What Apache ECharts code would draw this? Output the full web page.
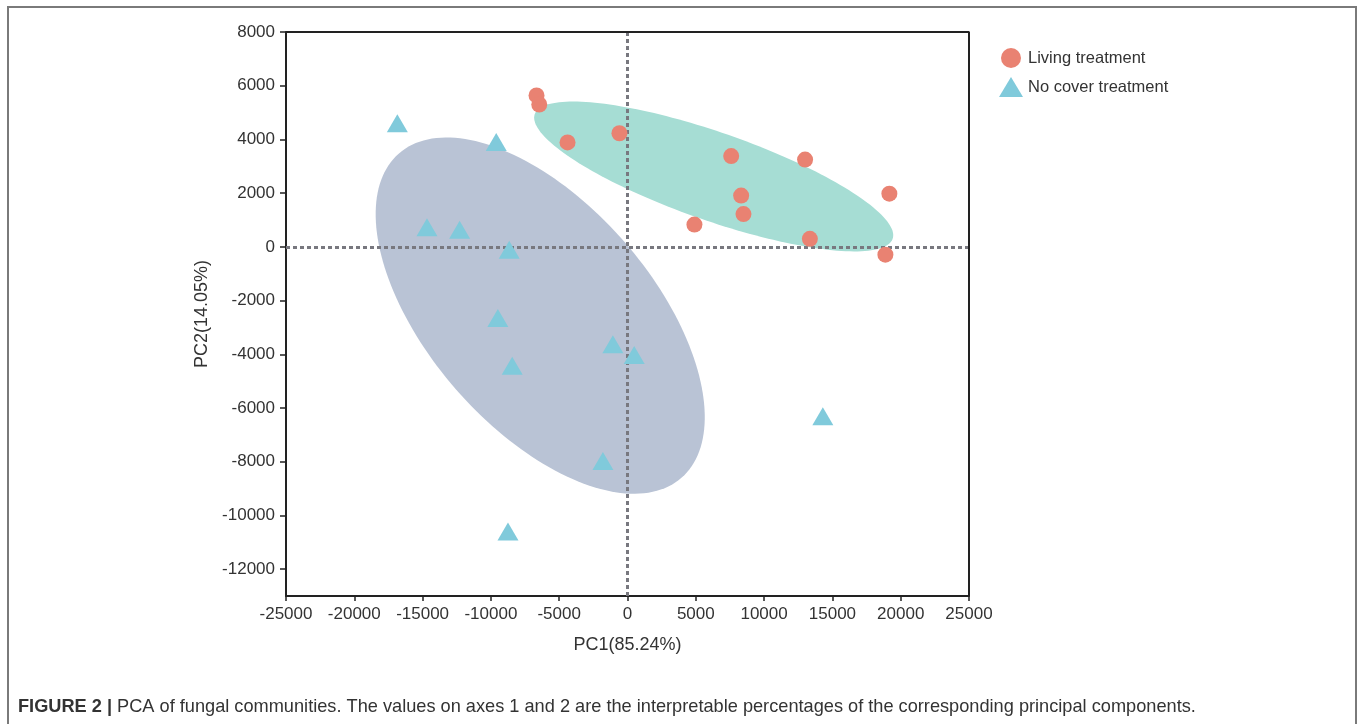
<!DOCTYPE html>
<html>
<head>
<meta charset="utf-8">
<script src="https://cdn.jsdelivr.net/npm/echarts@6/dist/echarts.min.js"></script>
<style>
html,body{margin:0;padding:0;background:#fff;}
#frame{position:absolute;left:7px;top:6px;width:1346px;height:740px;border:2px solid #7a7a7a;border-bottom:none;}
#chart{position:absolute;left:0;top:0;width:1357px;height:724px;}
</style>
</head>
<body>
<div id="frame"></div>
<div id="chart"></div>
<script>
// PC1, PC2 scores
const livingX = [-6660, -6460, -4390, -590, 7590, 13000, 8320, 8490, 4900, 13350, 19170, 18880];
const livingY = [5640, 5300, 3890, 4230, 3380, 3250, 1910, 1220, 830, 300, 1980, -290];
const noCoverX = [-16850, -9610, -14680, -12290, -8660, -9490, -1070, 490, -8440, -1800, -8750, 14300];
const noCoverY = [4600, 3900, 730, 640, -110, -2650, -3630, -4030, -4430, -7970, -10600, -6310];
// ellipses: [centerX, centerY, axis1X, axis1Y, axis2X, axis2Y]
const livingEllipse = [6310, 2620, 13100, -2320, 1060, 1550];
const noCoverEllipse = [-6390, -2560, 10340, -6040, -6180, -2740];
const seriesNames = ['Living treatment', 'No cover treatment'];
const xTicks = [-25000, -20000, -15000, -10000, -5000, 0, 5000, 10000, 15000, 20000, 25000];
const yTicks = [-12000, -10000, -8000, -6000, -4000, -2000, 0, 2000, 4000, 6000, 8000];
const xAxisName = 'PC1(85.24%)';
const yAxisName = 'PC2(14.05%)';
const captionBold = 'FIGURE 2 |';
const captionText = ' PCA of fungal communities. The values on axes 1 and 2 are the interpretable percentages of the corresponding principal components.';

const zip = (xs, ys) => xs.map((x, i) => [x, ys[i]]);
const font = "'Liberation Sans', Arial, Helvetica, sans-serif";

function ellipseRender(params, api) {
  const e = params.dataIndex === 0 ? livingEllipse : noCoverEllipse;
  const pts = [];
  for (let i = 0; i < 180; i++) {
    const t = i / 180 * Math.PI * 2;
    const c = Math.cos(t), s = Math.sin(t);
    pts.push(api.coord([e[0] + c * e[2] + s * e[4], e[1] + c * e[3] + s * e[5]]));
  }
  return {
    type: 'polygon',
    shape: { points: pts },
    style: { fill: params.dataIndex === 0 ? '#a6ddd4' : '#b9c3d5' }
  };
}

const chart = echarts.init(document.getElementById('chart'));
chart.setOption({
  animation: false,
  textStyle: { fontFamily: font },
  grid: { left: 286, right: 388, top: 32, bottom: 128, show: false },
  legend: {
    left: 994, top: 43, orient: 'vertical', itemGap: 9,
    itemWidth: 24, itemHeight: 20,
    textStyle: { fontSize: 16.5, color: '#333', fontFamily: font },
    data: seriesNames
  },
  xAxis: {
    type: 'value', min: -25000, max: 25000, interval: 5000,
    name: xAxisName, nameLocation: 'middle', nameGap: 40,
    nameTextStyle: { fontSize: 18, color: '#333' },
    axisLine: { show: true, onZero: false, lineStyle: { color: '#222', width: 2 } },
    axisTick: { show: true, length: 5, lineStyle: { color: '#222', width: 1.5 }, customValues: xTicks },
    axisLabel: { fontSize: 17, color: '#333', margin: 10, customValues: xTicks,
      formatter: v => String(v) },
    splitLine: { show: false }
  },
  yAxis: {
    type: 'value', min: -13000, max: 8000, interval: 1000,
    name: yAxisName, nameLocation: 'middle', nameGap: 73,
    nameTextStyle: { fontSize: 18, color: '#333' },
    axisLine: { show: true, onZero: false, lineStyle: { color: '#222', width: 2 } },
    axisTick: { show: true, length: 6, lineStyle: { color: '#222', width: 1.5 }, customValues: yTicks },
    axisLabel: { fontSize: 17, color: '#333', margin: 11, customValues: yTicks,
      formatter: v => String(v) },
    splitLine: { show: false }
  },
  graphic: [
    {
      type: 'text', left: 18, top: 698,
      style: {
        text: '{b|' + captionBold + '}{n|' + captionText + '}',
        rich: {
          b: { fontSize: 18.2, fontWeight: 'bold', fill: '#333', fontFamily: font },
          n: { fontSize: 18.2, fill: '#333', fontFamily: font }
        }
      }
    }
  ],
  series: [
    {
      type: 'custom', renderItem: ellipseRender, z: 1, silent: true,
      data: [[livingEllipse[0], livingEllipse[1]], [noCoverEllipse[0], noCoverEllipse[1]]],
      markLine: {
        silent: true, symbol: 'none', label: { show: false },
        lineStyle: { color: '#78787f', width: 3, type: [4, 3] },
        data: [{ xAxis: 0 }, { yAxis: 0 }]
      }
    },
    {
      name: seriesNames[0], type: 'scatter', z: 5,
      symbol: 'circle', symbolSize: 16,
      itemStyle: { color: '#e98272', opacity: 1 },
      data: zip(livingX, livingY)
    },
    {
      name: seriesNames[1], type: 'scatter', z: 5,
      symbol: 'triangle', symbolSize: [21, 18],
      itemStyle: { color: '#80cadb', opacity: 1 },
      data: zip(noCoverX, noCoverY)
    },
    {
      type: 'line', silent: true, z: 6, symbol: 'none',
      lineStyle: { color: '#222', width: 2 },
      data: [[-25000, 8000], [25000, 8000], [25000, -13000]]
    }
  ]
});
</script>
</body>
</html>
